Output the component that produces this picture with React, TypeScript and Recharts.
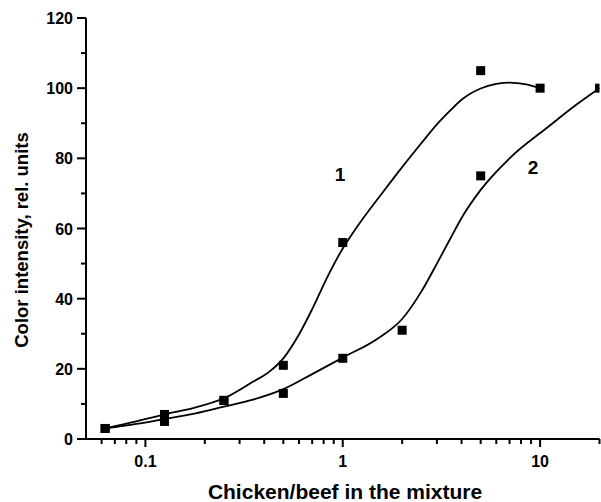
import { ComposedChart, Line, Scatter, XAxis, YAxis, ReferenceDot } from 'recharts';

// measured points
const ratio1 = [0.0625, 0.125, 0.25, 0.5, 1, 5, 10];
const intensity1 = [3, 7, 11, 21, 56, 105, 100];
const ratio2 = [0.0625, 0.125, 0.25, 0.5, 1, 2, 5, 20];
const intensity2 = [3, 5, 11, 13, 23, 31, 75, 100];

// fitted curves
const fitX1 = [0.0625, 0.09, 0.125, 0.18, 0.25, 0.35, 0.42, 0.5, 0.6, 0.7, 0.85, 1, 1.15, 1.25, 1.6, 2, 2.5, 3, 3.5, 4, 5, 6, 7, 8.5, 10];
const fitY1 = [3, 5, 7, 9, 11.6, 16.3, 19, 23, 29.8, 37, 47, 54.3, 59.5, 62.4, 70.4, 77.5, 84.3, 89.7, 93.6, 96.7, 99.9, 101.2, 101.6, 101.1, 100];
const fitX2 = [0.0625, 0.09, 0.125, 0.18, 0.25, 0.35, 0.5, 0.7, 1, 1.5, 2, 2.5, 3, 3.5, 4, 5, 7, 11, 15, 20];
const fitY2 = [3, 4.3, 5.7, 7.3, 9.2, 11.2, 14.2, 18.5, 23.2, 28.6, 34.2, 42, 50, 57, 63, 71, 80, 89, 95, 100];

const xTicks = [0.06, 0.07, 0.08, 0.09, 0.1, 0.2, 0.3, 0.4, 0.5, 0.6, 0.7, 0.8, 0.9, 1, 2, 3, 4, 5, 6, 7, 8, 9, 10, 20];
const xMajor = [0.1, 1, 10];
const yTicks = [0, 10, 20, 30, 40, 50, 60, 70, 80, 90, 100, 110, 120];
const yMajor = [0, 20, 40, 60, 80, 100, 120];

const curveLabels = [
  { name: '1', x: 0.97, y: 75.5 },
  { name: '2', x: 9.2, y: 77.5 },
];

const zip = (xs: number[], ys: number[]) => xs.map((x, i) => ({ x, y: ys[i] }));

const FONT = '"Liberation Sans", Arial, sans-serif';

// outward ticks: long for labelled values, short for minor ones
function XTick({ x, y, payload }: any) {
  const major = xMajor.includes(payload.value);
  return (
    <g>
      <rect x={x - 1} y={y} width={2} height={major ? 8 : 5} fill="#000" />
      {major && (
        <text x={x} y={y + 28} textAnchor="middle" fontFamily={FONT} fontWeight="bold" fontSize={16} fill="#000">
          {payload.value}
        </text>
      )}
    </g>
  );
}

function YTick({ x, y, payload }: any) {
  const major = yMajor.includes(payload.value);
  const len = major ? 9 : 5;
  return (
    <g>
      <rect x={x - len} y={y - 1} width={len} height={2} fill="#000" />
      {major && (
        <text x={x - 13} y={y + 6} textAnchor="end" fontFamily={FONT} fontWeight="bold" fontSize={16} fill="#000">
          {payload.value}
        </text>
      )}
    </g>
  );
}

function YTitle() {
  return (
    <text x={28} y={240} transform="rotate(-90 28 240)" textAnchor="middle" fontFamily={FONT} fontWeight="bold" fontSize={18.5} fill="#000">
      Color intensity, rel. units
    </text>
  );
}

function XTitle() {
  return (
    <text x={345} y={499} textAnchor="middle" fontFamily={FONT} fontWeight="bold" fontSize={21} fill="#000">
      Chicken/beef in the mixture
    </text>
  );
}

const square = (p: any) => <rect x={p.cx - 4.5} y={p.cy - 4.5} width={9} height={9} fill="#000" />;

export default function App() {
  return (
    <div style={{ position: 'absolute', left: 0, top: 0, width: 601, height: 502, background: '#fff' }}>
      <ComposedChart width={601} height={502} margin={{ top: 18, right: 1.5, left: 0, bottom: 0 }}>
        <XAxis
          dataKey="x"
          type="number"
          scale="log"
          domain={[0.05, 20]}
          allowDataOverflow
          ticks={xTicks}
          interval={0}
          tick={<XTick />}
          tickLine={false}
          tickSize={0}
          tickMargin={0}
          height={63}
          stroke="#000"
          strokeWidth={2}
          label={<XTitle />}
        />
        <YAxis
          type="number"
          domain={[0, 120]}
          ticks={yTicks}
          interval={0}
          tick={<YTick />}
          tickLine={false}
          tickSize={0}
          tickMargin={0}
          width={86}
          stroke="#000"
          strokeWidth={2}
          label={<YTitle />}
        />
        <Line data={zip(fitX1, fitY1)} dataKey="y" type="monotone" stroke="#000" strokeWidth={1.8} dot={false} isAnimationActive={false} />
        <Line data={zip(fitX2, fitY2)} dataKey="y" type="monotone" stroke="#000" strokeWidth={1.8} dot={false} isAnimationActive={false} />
        <Scatter data={zip(ratio1, intensity1)} dataKey="y" shape={square} isAnimationActive={false} />
        <Scatter data={zip(ratio2, intensity2)} dataKey="y" shape={square} isAnimationActive={false} />
        {curveLabels.map(l => (
          <ReferenceDot
            key={l.name}
            x={l.x}
            y={l.y}
            r={0}
            label={{ value: l.name, position: 'center', fontFamily: FONT, fontWeight: 'bold', fontSize: 19, fill: '#000' }}
          />
        ))}
      </ComposedChart>
    </div>
  );
}
